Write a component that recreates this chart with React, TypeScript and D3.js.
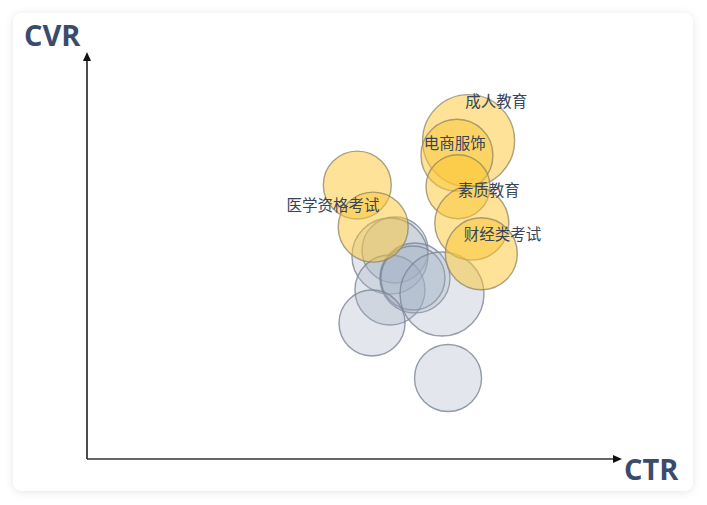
import React from "react";
import * as d3 from "d3";

// ---- data (CTR %, CVR %, size) ----
const grayCtr = [2.906, 2.858, 2.858, 3.094, 3.075, 3.349, 2.689, 3.406];
const grayCvr = [2.587, 2.512, 2.092, 2.240, 2.240, 2.042, 1.683, 1.002];
const graySize = [43.6, 57.8, 49, 49, 41, 70.6, 43.6, 44.9];

const yellowCtr = [3.6, 3.49, 3.5, 3.63, 3.72, 2.55, 2.7];
const yellowCvr = [3.94, 3.76, 3.37, 2.92, 2.54, 3.39, 2.87];
const yellowSize = [84.6, 51.8, 41, 54.8, 51.8, 46.2, 49];

const labelNames = ["成人教育", "电商服饰", "素质教育", "财经类考试", "医学资格考试"];
const labelCtr = [3.86, 3.47, 3.79, 3.92, 2.32];
const labelCvr = [4.44, 3.92, 3.34, 2.80, 3.16];

const xTitle = "CTR";
const yTitle = "CVR";

const W = 707;
const H = 505;

export default function App() {
  const x = d3.scaleLinear().domain([0, 5]).range([87, 617]);
  const y = d3.scaleLinear().domain([0, 5]).range([459, 55]);
  const r = d3.scaleSqrt().domain([0, 100]).range([0, 50]);

  const gray = grayCtr.map((c, i) => ({ c, v: grayCvr[i], s: graySize[i] }));
  const yellow = yellowCtr.map((c, i) => ({ c, v: yellowCvr[i], s: yellowSize[i] }));
  const labels = labelNames.map((n, i) => ({ n, c: labelCtr[i], v: labelCvr[i] }));

  const x0 = x(0);
  const y0 = y(0);

  return (
    <div style={{ position: "fixed", left: 0, top: 0, width: W, height: H, background: "#ffffff" }}>
      <svg width={W} height={H} style={{ display: "block" }}>
        <defs>
          <filter id="shadow" x="-10%" y="-10%" width="120%" height="120%">
            <feDropShadow dx="0" dy="1" stdDeviation="4" floodColor="#000" floodOpacity="0.10" />
          </filter>
        </defs>
        <rect x={13} y={13} width={680} height={478} rx={9} ry={9} fill="#ffffff" filter="url(#shadow)" />

        {/* axes */}
        <line x1={x0} y1={y0} x2={x0} y2={y(5) + 5} stroke="#111" strokeWidth={1.5} />
        <path d={`M${x0},${y(5) - 3} L${x0 - 4},${y(5) + 6} L${x0 + 4},${y(5) + 6} Z`} fill="#111" />
        <line x1={x0} y1={y0} x2={x(5) - 2} y2={y0} stroke="#333" strokeWidth={1.5} />
        <path d={`M${x(5) + 5},${y0} L${x(5) - 4},${y0 - 4} L${x(5) - 4},${y0 + 4} Z`} fill="#111" />

        <text x={24} y={46} fontFamily="'Open Sans', sans-serif" fontWeight={700} fontSize={29} fill="#3a4b6b">
          {yTitle}
        </text>
        <text x={624} y={480} fontFamily="'Open Sans', sans-serif" fontWeight={700} fontSize={29} fill="#3a4b6b">
          {xTitle}
        </text>

        {/* gray bubbles */}
        {gray.map((d, i) => (
          <circle
            key={"g" + i}
            cx={x(d.c)}
            cy={y(d.v)}
            r={r(d.s)}
            fill="#a3afc3"
            fillOpacity={0.3}
            stroke="#7b8496"
            strokeOpacity={0.8}
            strokeWidth={1.4}
          />
        ))}

        {/* yellow bubbles */}
        {yellow.map((d, i) => (
          <circle
            key={"y" + i}
            cx={x(d.c)}
            cy={y(d.v)}
            r={r(d.s)}
            fill="#fbc531"
            fillOpacity={0.5}
            stroke="#8f8466"
            strokeOpacity={0.75}
            strokeWidth={1.4}
          />
        ))}

        {labels.map((d, i) => (
          <text
            key={"l" + i}
            x={x(d.c)}
            y={y(d.v)}
            textAnchor="middle"
            dominantBaseline="central"
            fontFamily="'Noto Sans CJK SC', sans-serif"
            fontSize={15.5}
            fill="#37445a"
          >
            {d.n}
          </text>
        ))}
      </svg>
    </div>
  );
}
